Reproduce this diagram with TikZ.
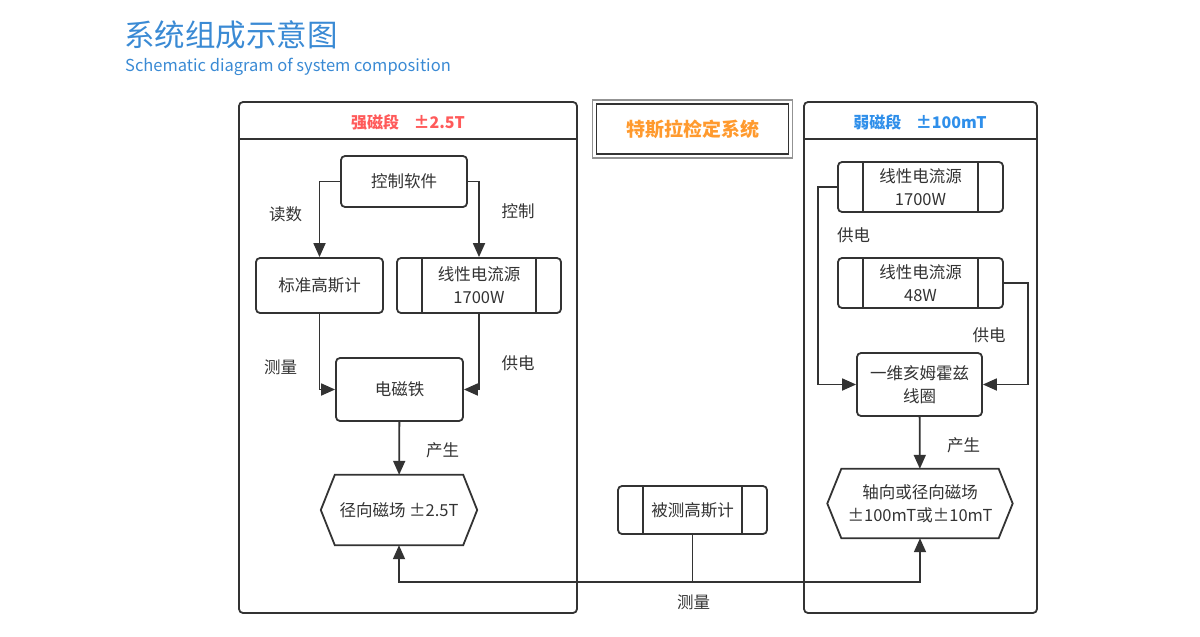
\documentclass[tikz,border=0pt]{standalone}
\usepackage{fontspec}
\setmainfont{Noto Sans CJK SC}
\usetikzlibrary{positioning,arrows.meta,calc}
\definecolor{cline}{HTML}{333333}
\definecolor{ctext}{HTML}{333333}
\definecolor{cstrong}{HTML}{FF5A5A}
\definecolor{cweak}{HTML}{2F8FEA}
\definecolor{csys}{HTML}{FF9A2E}
\definecolor{ctitle}{HTML}{3A8AD4}
\tikzset{
  panel/.style={rectangle, rounded corners=4pt, draw=cline, line width=1.8pt},
  box/.style={rectangle, rounded corners=4pt, draw=cline, fill=white, line width=1.8pt,
              align=center, inner sep=0pt, font=\fontsize{16.5}{23}\selectfont, text=ctext},
  proc/.style={box, path picture={
      \draw[cline, line width=1.8pt]
        ([xshift=25pt]path picture bounding box.north west) -- ([xshift=25pt]path picture bounding box.south west)
        ([xshift=-25pt]path picture bounding box.north east) -- ([xshift=-25pt]path picture bounding box.south east);}},
  hexa/.style={rectangle, align=center, inner sep=0pt, font=\fontsize{16.5}{23}\selectfont, text=ctext},
  lbl/.style={font=\fontsize{16.5}{20}\selectfont, text=ctext},
  head/.style={font=\bfseries\fontsize{16}{20}\selectfont},
  flow/.style={-{Triangle[length=14pt,width=12pt]}, line width=1.8pt, draw=cline}
}
\newcommand\hexframe[1]{\draw[line width=1.8pt, draw=cline] (#1.west) -- ([xshift=14pt]#1.north west)
  -- ([xshift=-14pt]#1.north east) -- (#1.east) -- ([xshift=-14pt]#1.south east)
  -- ([xshift=14pt]#1.south west) -- cycle;}

\begin{document}
\begin{tikzpicture}[x=1pt, y=-1pt]
\useasboundingbox (0,0) rectangle (1200,637);
% title
\node[anchor=west, inner sep=0pt, text=ctitle, font=\fontsize{30.5}{34}\selectfont] (title) at (124,35) {系统组成示意图};
\node[anchor=west, inner sep=0pt, text=ctitle, font=\fontsize{16.5}{20}\selectfont] (subtitle) at (125,67) {Schematic diagram of system composition};
% panels
\node[panel, minimum width=338pt, minimum height=511pt] (strong) at (408,357.5) {};
\draw[cline, line width=1.8pt] ([yshift=-38pt]strong.north west) -- ([yshift=-38pt]strong.north east);
\node[head, text=cstrong] (strongh) at (408,122) {强磁段\hspace{0.9em}±2.5T};
\node[panel, minimum width=233pt, minimum height=511pt] (weak) at (920.5,357.5) {};
\draw[cline, line width=1.8pt] ([yshift=-38pt]weak.north west) -- ([yshift=-38pt]weak.north east);
\node[head, text=cweak] (weakh) at (920,122) {弱磁段\hspace{0.9em}±100mT};
\node[rectangle, draw=cline, line width=1.8pt, minimum width=192pt, minimum height=50pt,
      text=csys, font=\bfseries\fontsize{19}{22}\selectfont] (sys) at (692.5,129) {特斯拉检定系统};
\draw[draw=gray!85, line width=1.6pt] ([shift={(-3pt,3pt)}]sys.north west) rectangle ([shift={(3pt,-3pt)}]sys.south east);
% strong field
\node[box, minimum width=126pt, minimum height=51pt] (soft) at (404,181.5) {控制软件};
\node[box, minimum width=127pt, minimum height=55pt] (gauss) at (319.5,285.5) {标准高斯计};
\node[proc, minimum width=164pt, minimum height=55pt] (srcA) at (479,285.5) {线性电流源\\1700W};
\node[box, minimum width=127pt, minimum height=63pt] (magnet) at (399.5,389.5) {电磁铁};
\node[hexa, minimum width=156pt, minimum height=70pt] (fieldA) at (399,510) {径向磁场 ±2.5T};
\hexframe{fieldA}
\draw[flow] (soft.west) -| (gauss.north);
\draw[flow] (soft.east) -| (srcA.north);
\draw[flow] (gauss.south) |- (magnet.west);
\draw[flow] (srcA.south) |- (magnet.east);
\draw[flow] (magnet) -- (fieldA);
\node[lbl] (l1) at (285.5,214) {读数};
\node[lbl] (l2) at (518,211) {控制};
\node[lbl] (l3) at (280.5,367) {测量};
\node[lbl] (l4) at (518,363) {供电};
\node[lbl] (l5) at (442.5,450) {产生};
% weak field
\node[proc, minimum width=165pt, minimum height=50pt] (srcB) at (920.5,187) {线性电流源\\1700W};
\node[proc, minimum width=165pt, minimum height=50pt] (srcC) at (920.5,283) {线性电流源\\48W};
\node[box, minimum width=125pt, minimum height=63pt] (coil) at (919.5,384.5) {一维亥姆霍兹\\线圈};
\node[hexa, minimum width=185pt, minimum height=69pt] (fieldB) at (920,503.5) {轴向或径向磁场\\±100mT或±10mT};
\hexframe{fieldB}
\draw[flow] (srcB.west) -- ++(-19,0) |- (coil.west);
\draw[flow] (srcC.east) -- ++(24,0) |- (coil.east);
\draw[flow] (coil) -- (fieldB);
\node[lbl] (l6) at (853.5,235) {供电};
\node[lbl] (l7) at (989,335) {供电};
\node[lbl] (l8) at (963.5,445) {产生};
% device under test
\node[proc, minimum width=149pt, minimum height=48pt] (dut) at (692.5,510) {被测高斯计};
\draw[flow] (dut.south) -- ++(0,47) -| (fieldA.south);
\draw[flow] (dut.south) -- ++(0,47) -| (fieldB.south);
\node[lbl] (l9) at (693.5,602) {测量};
\end{tikzpicture}
\end{document}
